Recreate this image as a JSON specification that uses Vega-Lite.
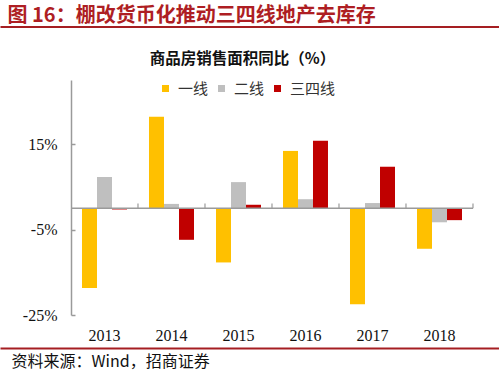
{
  "$schema": "https://vega.github.io/schema/vega-lite/v6.json",
  "width": 499,
  "height": 235,
  "autosize": "none",
  "padding": {"left": 0, "top": 80, "right": 0, "bottom": 60},
  "background": "white",
  "title": {
    "text": "商品房销售面积同比（%）",
    "anchor": "middle",
    "frame": "group",
    "font": "Noto Sans CJK SC",
    "fontSize": 15.5,
    "fontWeight": "bold",
    "color": "#111111",
    "offset": -62,
    "dx": -7
  },
  "config": {
    "view": {"stroke": null},
    "axis": {"grid": false}
  },
  "datasets": {
    "sales": [
      {"year": "2013", "tier": "一线", "value": -18.7},
      {"year": "2013", "tier": "二线", "value": 7.3},
      {"year": "2013", "tier": "三四线", "value": -0.3},
      {"year": "2014", "tier": "一线", "value": 21.4},
      {"year": "2014", "tier": "二线", "value": 1.0},
      {"year": "2014", "tier": "三四线", "value": -7.4},
      {"year": "2015", "tier": "一线", "value": -12.7},
      {"year": "2015", "tier": "二线", "value": 6.1},
      {"year": "2015", "tier": "三四线", "value": 0.8},
      {"year": "2016", "tier": "一线", "value": 13.4},
      {"year": "2016", "tier": "二线", "value": 2.1},
      {"year": "2016", "tier": "三四线", "value": 15.8},
      {"year": "2017", "tier": "一线", "value": -22.5},
      {"year": "2017", "tier": "二线", "value": 1.2},
      {"year": "2017", "tier": "三四线", "value": 9.7},
      {"year": "2018", "tier": "一线", "value": -9.5},
      {"year": "2018", "tier": "二线", "value": -3.3},
      {"year": "2018", "tier": "三四线", "value": -2.8}
    ],
    "years": [
      {"year": "2013"}, {"year": "2014"}, {"year": "2015"},
      {"year": "2016"}, {"year": "2017"}, {"year": "2018"}
    ]
  },
  "resolve": {"axis": {"x": "independent"}},
  "layer": [
    {
      "data": {"name": "sales"},
      "mark": {"type": "bar"},
      "encoding": {
        "x": {
          "field": "year",
          "type": "nominal",
          "sort": ["2013", "2014", "2015", "2016", "2017", "2018"],
          "scale": {"paddingInner": 0.3284, "paddingOuter": 0.8881, "align": 0.689},
          "axis": {
            "orient": "bottom",
            "offset": 33,
            "domain": true,
            "domainColor": "#A51E22",
            "domainWidth": 2,
            "ticks": false,
            "labelAngle": 0,
            "labelFont": "Liberation Serif",
            "labelFontSize": 16,
            "labelColor": "#111111",
            "labelBaseline": "middle",
            "labelPadding": -13,
            "title": "资料来源：Wind，招商证券",
            "titleFont": "Noto Sans CJK SC",
            "titleFontSize": 16,
            "titleFontWeight": "normal",
            "titleColor": "#111111",
            "titleAnchor": "start",
            "titleAlign": "left",
            "titleBaseline": "middle",
            "titleX": 11,
            "titleY": 13.5
          }
        },
        "xOffset": {
          "field": "tier",
          "type": "nominal",
          "sort": ["一线", "二线", "三四线"],
          "scale": {"paddingInner": 0, "paddingOuter": 0}
        },
        "y": {
          "field": "value",
          "type": "quantitative",
          "scale": {"domain": [-25, 30], "nice": false, "zero": false},
          "axis": {
            "orient": "left",
            "offset": -71,
            "values": [-25, -5, 15],
            "labelExpr": "datum.value + '%'",
            "labelFont": "Liberation Serif",
            "labelFontSize": 16,
            "labelColor": "#111111",
            "labelPadding": 18,
            "domainColor": "#9A9A9A",
            "domainWidth": 1.5,
            "tickColor": "#9A9A9A",
            "tickWidth": 1.5,
            "tickSize": -4,
            "title": null
          }
        },
        "color": {
          "field": "tier",
          "type": "nominal",
          "sort": ["一线", "二线", "三四线"],
          "scale": {"domain": ["一线", "二线", "三四线"], "range": ["#FFC000", "#BFBFBF", "#C00000"]},
          "legend": {
            "orient": "none",
            "legendX": 158,
            "legendY": 1,
            "direction": "horizontal",
            "gridAlign": "none",
            "title": null,
            "symbolType": "square",
            "symbolSize": 49,
            "symbolStrokeWidth": 0,
            "labelFont": "Noto Sans CJK SC",
            "labelFontSize": 15,
            "labelColor": "#333333",
            "labelOffset": 5,
            "columnPadding": 5
          }
        }
      }
    },
    {
      "data": {"name": "years"},
      "mark": {"type": "bar", "color": "#9A9A9A", "width": {"band": 1.4889}},
      "encoding": {
        "x": {
          "field": "year",
          "type": "nominal",
          "sort": ["2013", "2014", "2015", "2016", "2017", "2018"],
          "axis": {
            "orient": "top",
            "offset": 53.5,
            "domain": true,
            "domainColor": "#A51E22",
            "domainWidth": 2,
            "ticks": false,
            "labels": false,
            "title": "图 16：棚改货币化推动三四线地产去库存",
            "titleFont": "Noto Sans CJK SC",
            "titleFontSize": 20,
            "titleFontWeight": "bold",
            "titleColor": "#AE1E23",
            "titleAnchor": "start",
            "titleAlign": "left",
            "titleBaseline": "middle",
            "titleX": 7,
            "titleY": -11
          }
        },
        "y": {"datum": -0.17, "title": null},
        "y2": {"datum": 0.17}
      }
    },
    {
      "data": {"name": "years"},
      "mark": {"type": "rule", "color": "#9A9A9A", "strokeWidth": 1.2},
      "encoding": {
        "x": {
          "field": "year",
          "type": "nominal",
          "sort": ["2013", "2014", "2015", "2016", "2017", "2018"],
          "bandPosition": 1.2444,
          "axis": null
        },
        "y": {"datum": 0, "title": null},
        "y2": {"datum": 1.1}
      }
    }
  ]
}
